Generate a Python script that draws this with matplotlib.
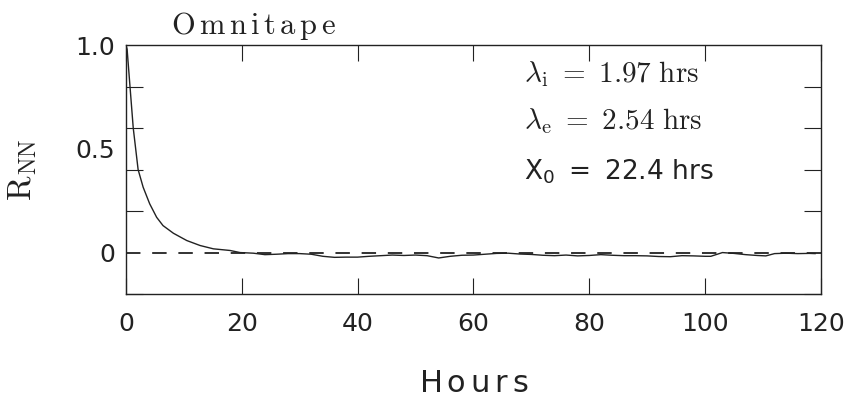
import matplotlib
matplotlib.use("Agg")
import matplotlib.pyplot as plt
import numpy as np

# autocorrelation
hours = [0.0, 0.2, 0.7, 1.26, 2.1, 2.97, 4.1, 5.3, 6.4, 8.2, 10.5, 12.8, 15.1, 18.0, 19.7,
         22, 24, 26, 28, 30, 32, 34, 36, 38, 40, 42, 44, 46, 48, 50, 52, 54, 56, 58, 60,
         62, 64, 66, 68, 70, 72, 74, 76, 78, 80, 82, 84, 86, 88, 90, 92, 94, 96, 98, 100,
         101, 103, 105, 107, 109, 110.5, 112, 114, 116, 118, 119]
r_nn = [1.0, 0.98, 0.80, 0.60, 0.40, 0.315, 0.235, 0.17, 0.13, 0.093, 0.058, 0.034, 0.018, 0.01, 0.0,
        -0.003, -0.01, -0.008, -0.005, -0.005, -0.008, -0.018, -0.023, -0.022, -0.022, -0.018,
        -0.015, -0.012, -0.014, -0.012, -0.015, -0.026, -0.018, -0.013, -0.012,
        -0.008, -0.004, -0.003, -0.007, -0.009, -0.013, -0.015, -0.012, -0.016, -0.014,
        -0.01, -0.013, -0.015, -0.015, -0.016, -0.019, -0.02, -0.015, -0.016, -0.018,
        -0.018, 0.0, -0.004, -0.01, -0.014, -0.016, -0.005, -0.003, -0.005, -0.004, -0.005]

x_ticks = [0, 20, 40, 60, 80, 100, 120]
y_ticks = [0, 0.5, 1.0]
y_ticklabels = ["0", "0.5", "1.0"]
y_minor = [-0.2, 0.0, 0.2, 0.4, 0.6, 0.8, 1.0]

plt.rcParams['mathtext.fontset'] = 'cm'
plt.rcParams['font.family'] = 'DejaVu Sans'

fig = plt.figure(figsize=(8.51, 3.99), dpi=100)
ax = fig.add_axes([0.148, 0.263, 0.8166, 0.624])

ax.plot(hours, r_nn, color='#222222', lw=1.0)
# dashed zero line
ax.axhline(0, color='#222222', lw=1.3, linestyle=(0, (8, 6.5)))

ax.set_xlim(0, 120)
ax.set_ylim(-0.2, 1.0)

ax.set_xticks(x_ticks)
ax.set_xticklabels([str(t) for t in x_ticks])
ax.set_yticks(y_ticks)
ax.set_yticklabels(y_ticklabels)
ax.set_yticks(y_minor, minor=True)

ax.tick_params(axis='x', which='major', direction='in', length=11.5, width=0.8,
               top=True, bottom=True, labelsize=18, pad=13, colors='#222222')
ax.tick_params(axis='y', which='major', length=0, labelsize=18, pad=8, colors='#222222')
ax.tick_params(axis='y', which='minor', direction='in', length=12, width=0.8,
               left=True, right=True, colors='#222222')
for s in ax.spines.values():
    s.set_linewidth(1.0)
    s.set_color('#222222')

ax.set_xlabel(r'$\mathrm{H\,o\,u\,r\,s}$', fontsize=22, math_fontfamily='dejavusans',
              labelpad=24, color='#222222')
fig.text(0.026, 0.574, r'$\mathrm{R_{NN}}$', fontsize=24, rotation=90,
         ha='center', va='center', color='#222222')

ax.text(0.183, 1.075, r'$\mathrm{O\,m\,n\,i\,t\,a\,p\,e}$', transform=ax.transAxes,
        fontsize=22, ha='center', va='center', color='#222222')

ax.text(0.573, 0.885, r'$\lambda_{\rm i}\ =\ \mathrm{1.97\ hrs}$', transform=ax.transAxes,
        fontsize=21, ha='left', va='center', color='#222222')
ax.text(0.573, 0.695, r'$\lambda_{\rm e}\ =\ \mathrm{2.54\ hrs}$', transform=ax.transAxes,
        fontsize=21, ha='left', va='center', color='#222222')
ax.text(0.573, 0.49, r'$\mathrm{X_0\ =\ 22.4\ hrs}$', transform=ax.transAxes,
        fontsize=19, ha='left', va='center', math_fontfamily='dejavusans', color='#222222')

fig.savefig('out.png', dpi=100)
